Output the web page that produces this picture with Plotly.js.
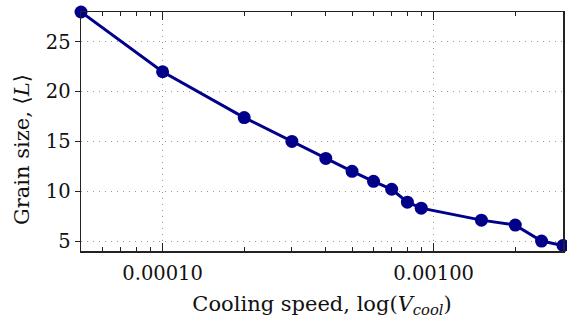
<!DOCTYPE html>
<html>
<head>
<meta charset="utf-8">
<script src="https://cdn.plot.ly/plotly-3.0.1.min.js"></script>
<style>html,body{margin:0;padding:0;background:#fff;}#chart{width:567px;height:320px;}</style>
</head>
<body>
<div id="chart"></div>
<script>
// Data
const coolingSpeed = [5e-5, 1e-4, 2e-4, 3e-4, 4e-4, 5e-4, 6e-4, 7e-4, 8e-4, 9e-4, 1.5e-3, 2e-3, 2.5e-3, 3e-3];
const grainSize    = [28.0, 22.0, 17.4, 15.0, 13.3, 12.0, 11.0, 10.2, 8.9, 8.3, 7.1, 6.6, 5.0, 4.55];
const xTickVals = [1e-4, 1e-3];
const xTickText = ["0.00010", "0.00100"];
const xMinorVals = [6e-5, 7e-5, 8e-5, 9e-5, 2e-4, 3e-4, 4e-4, 5e-4, 6e-4, 7e-4, 8e-4, 9e-4, 2e-3, 3e-3];
const yTickVals = [5, 10, 15, 20, 25];
const xTitle = "Cooling speed, log(<i>V</i><sub><i>cool</i></sub>)";
const yTitle = "Grain size, ⟨<i>L</i>⟩";

const tickFont = {family: "DejaVu Serif, serif", size: 19.5, color: "#111"};
const titleFont = {family: "DejaVu Serif, serif", size: 21, color: "#111"};

const trace = {
  x: coolingSpeed,
  y: grainSize,
  type: "scatter",
  mode: "lines+markers",
  line: {color: "#00008B", width: 3},
  marker: {color: "#00008B", size: 13},
  cliponaxis: false,
  hoverinfo: "skip"
};

const layout = {
  width: 567, height: 320,
  margin: {l: 81, r: 4, t: 12, b: 69},
  paper_bgcolor: "#fff", plot_bgcolor: "#fff",
  showlegend: false,
  font: tickFont,
  xaxis: {
    type: "log",
    range: [Math.log10(5e-5), Math.log10(3e-3)],
    tickmode: "array", tickvals: xTickVals, ticktext: xTickText,
    ticks: "inside", ticklen: 8, tickwidth: 1, tickcolor: "#222",
    ticklabelstandoff: 4,
    showline: true, linecolor: "#222", linewidth: 1.5, mirror: "ticks",
    showgrid: true, gridcolor: "#999", griddash: "1px,5px", gridwidth: 1,
    zeroline: false,
    tickfont: tickFont,
    minor: {tickmode: "array", tickvals: xMinorVals, ticks: "inside", ticklen: 4, tickwidth: 1, tickcolor: "#222", showgrid: false},
    title: {text: xTitle, font: titleFont, standoff: 12}
  },
  yaxis: {
    range: [4, 28],
    tickmode: "array", tickvals: yTickVals,
    ticks: "outside", ticklen: 5, tickwidth: 1, tickcolor: "#222",
    showline: true, linecolor: "#222", linewidth: 1.5, mirror: true,
    showgrid: true, gridcolor: "#999", griddash: "1px,5px", gridwidth: 1,
    zeroline: false,
    tickfont: tickFont
  },
  annotations: [{
    text: yTitle, font: titleFont, textangle: -90,
    xref: "paper", yref: "paper", x: 0, y: 0.4226,
    xanchor: "center", yanchor: "middle", xshift: -59, showarrow: false
  }]
};

Plotly.newPlot("chart", [trace], layout, {staticPlot: true, displayModeBar: false});
</script>
</body>
</html>
